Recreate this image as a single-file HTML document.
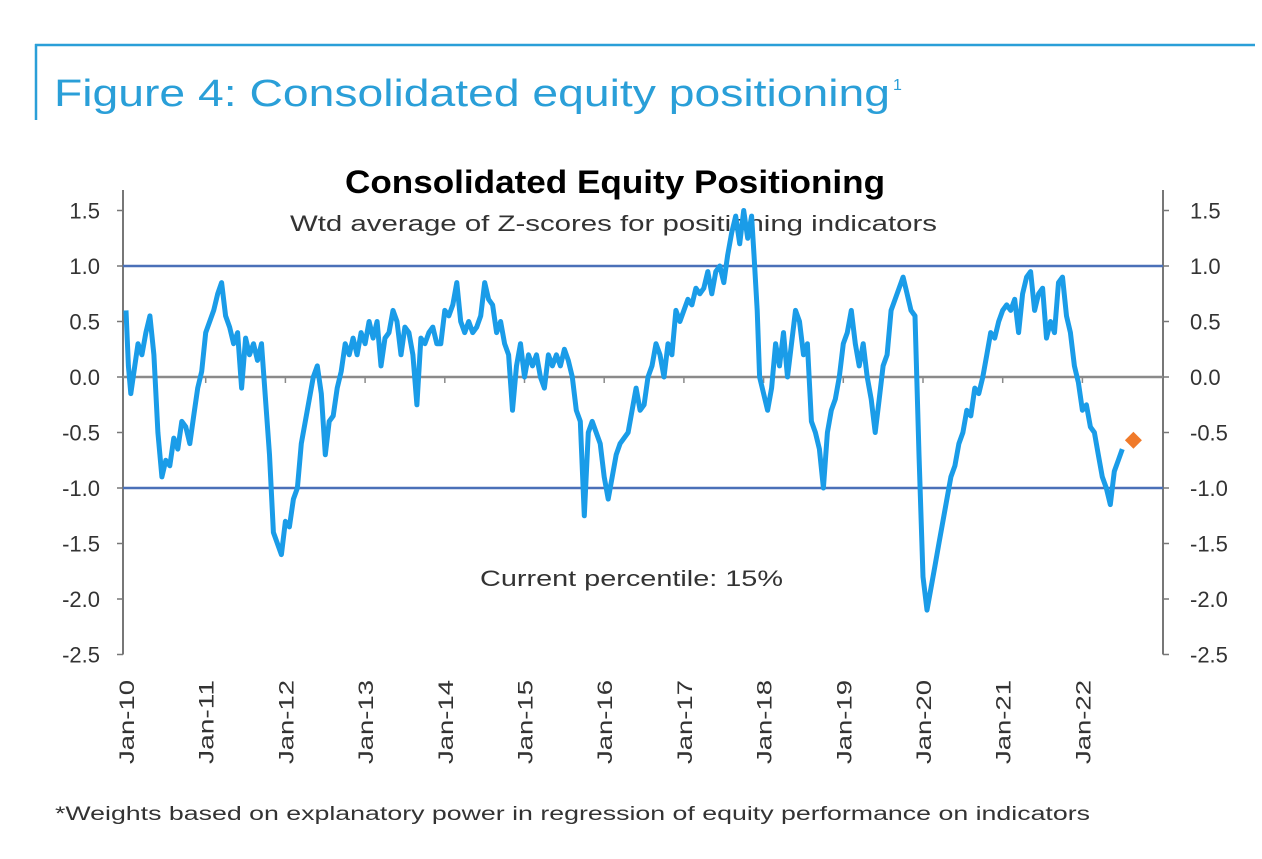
<!DOCTYPE html>
<html><head><meta charset="utf-8"><style>
body{margin:0;background:#fff;width:1262px;height:854px;overflow:hidden;font-family:"Liberation Sans",sans-serif}
</style></head><body>
<svg id="c" width="1262" height="854" xmlns="http://www.w3.org/2000/svg" style="font-family:'Liberation Sans',sans-serif">
<line x1="35" y1="45" x2="1255" y2="45" stroke="#2a9fd8" stroke-width="2.5"/>
<line x1="36" y1="44" x2="36" y2="120" stroke="#2a9fd8" stroke-width="2.5"/>
<text x="54" y="106" font-size="38" fill="#2a9fd8" textLength="836" lengthAdjust="spacingAndGlyphs">Figure 4: Consolidated equity positioning</text>
<text x="893" y="90" font-size="16" fill="#2a9fd8">1</text>
<text x="345" y="193" font-size="32" font-weight="bold" fill="#000" textLength="540" lengthAdjust="spacingAndGlyphs">Consolidated Equity Positioning</text>
<text x="290" y="231" font-size="22" fill="#333" textLength="647" lengthAdjust="spacingAndGlyphs">Wtd average of Z-scores for positioning indicators</text>
<g id="axes"></g>
<g id="plot"></g>
<text x="480" y="586" font-size="22" fill="#333" textLength="303" lengthAdjust="spacingAndGlyphs">Current percentile: 15%</text>
<text x="55" y="820" font-size="19" fill="#333" textLength="1035" lengthAdjust="spacingAndGlyphs">*Weights based on explanatory power in regression of equity performance on indicators</text>
</svg>
<script>
const yTicks=[1.5,1.0,0.5,0.0,-0.5,-1.0,-1.5,-2.0,-2.5];
const yTickLabels=["1.5","1.0","0.5","0.0","-0.5","-1.0","-1.5","-2.0","-2.5"];
const xYears=[2010,2011,2012,2013,2014,2015,2016,2017,2018,2019,2020,2021,2022];
const xTickLabels=["Jan-10","Jan-11","Jan-12","Jan-13","Jan-14","Jan-15","Jan-16","Jan-17","Jan-18","Jan-19","Jan-20","Jan-21","Jan-22"];
const dates=[2010.0,2010.03,2010.06,2010.1,2010.15,2010.2,2010.25,2010.3,2010.35,2010.4,2010.45,2010.5,2010.55,2010.6,2010.65,2010.7,2010.75,2010.8,2010.85,2010.9,2010.95,2011.0,2011.05,2011.1,2011.15,2011.2,2011.25,2011.3,2011.35,2011.4,2011.45,2011.5,2011.55,2011.6,2011.65,2011.7,2011.75,2011.8,2011.85,2011.9,2011.95,2012.0,2012.05,2012.1,2012.15,2012.2,2012.25,2012.3,2012.35,2012.4,2012.45,2012.5,2012.55,2012.6,2012.65,2012.7,2012.75,2012.8,2012.85,2012.9,2012.95,2013.0,2013.05,2013.1,2013.15,2013.2,2013.25,2013.3,2013.35,2013.4,2013.45,2013.5,2013.55,2013.6,2013.65,2013.7,2013.75,2013.8,2013.85,2013.9,2013.95,2014.0,2014.05,2014.1,2014.15,2014.2,2014.25,2014.3,2014.35,2014.4,2014.45,2014.5,2014.55,2014.6,2014.65,2014.7,2014.75,2014.8,2014.85,2014.9,2014.95,2015.0,2015.05,2015.1,2015.15,2015.2,2015.25,2015.3,2015.35,2015.4,2015.45,2015.5,2015.55,2015.6,2015.65,2015.7,2015.75,2015.8,2015.85,2015.9,2015.95,2016.0,2016.05,2016.1,2016.15,2016.2,2016.3,2016.35,2016.4,2016.45,2016.5,2016.55,2016.6,2016.65,2016.7,2016.75,2016.8,2016.85,2016.9,2016.95,2017.0,2017.05,2017.1,2017.15,2017.2,2017.25,2017.3,2017.35,2017.4,2017.45,2017.5,2017.55,2017.6,2017.65,2017.7,2017.75,2017.8,2017.85,2017.88,2017.92,2017.95,2018.0,2018.05,2018.1,2018.15,2018.2,2018.25,2018.3,2018.35,2018.4,2018.45,2018.5,2018.55,2018.6,2018.65,2018.7,2018.75,2018.8,2018.85,2018.9,2018.95,2019.0,2019.05,2019.1,2019.15,2019.2,2019.25,2019.3,2019.35,2019.4,2019.45,2019.5,2019.55,2019.6,2019.65,2019.7,2019.75,2019.8,2019.85,2019.9,2019.95,2020.0,2020.05,2020.1,2020.15,2020.2,2020.25,2020.3,2020.35,2020.4,2020.45,2020.5,2020.55,2020.6,2020.65,2020.7,2020.75,2020.8,2020.85,2020.9,2020.95,2021.0,2021.05,2021.1,2021.15,2021.2,2021.25,2021.3,2021.35,2021.4,2021.45,2021.5,2021.55,2021.6,2021.65,2021.7,2021.75,2021.8,2021.85,2021.9,2021.95,2022.0,2022.05,2022.1,2022.15,2022.2,2022.25,2022.3,2022.35,2022.4,2022.45,2022.5,2022.55,2022.6];
const values=[0.6,0.1,-0.15,0.05,0.3,0.2,0.4,0.55,0.2,-0.5,-0.9,-0.75,-0.8,-0.55,-0.65,-0.4,-0.45,-0.6,-0.35,-0.1,0.05,0.4,0.5,0.6,0.75,0.85,0.55,0.45,0.3,0.4,-0.1,0.35,0.2,0.3,0.15,0.3,-0.2,-0.7,-1.4,-1.5,-1.6,-1.3,-1.35,-1.1,-1.0,-0.6,-0.4,-0.2,0.0,0.1,-0.15,-0.7,-0.4,-0.35,-0.1,0.05,0.3,0.2,0.35,0.2,0.4,0.3,0.5,0.35,0.5,0.1,0.35,0.4,0.6,0.5,0.2,0.45,0.4,0.2,-0.25,0.35,0.3,0.4,0.45,0.3,0.3,0.6,0.55,0.65,0.85,0.5,0.4,0.5,0.4,0.45,0.55,0.85,0.7,0.65,0.4,0.5,0.3,0.2,-0.3,0.1,0.3,0.0,0.2,0.1,0.2,0.0,-0.1,0.2,0.1,0.2,0.1,0.25,0.15,0.0,-0.3,-0.4,-1.25,-0.5,-0.4,-0.5,-0.6,-0.9,-1.1,-0.9,-0.7,-0.6,-0.5,-0.3,-0.1,-0.3,-0.25,0.0,0.1,0.3,0.2,0.0,0.3,0.2,0.6,0.5,0.6,0.7,0.65,0.8,0.75,0.8,0.95,0.75,0.95,1.0,0.85,1.1,1.3,1.45,1.2,1.5,1.25,1.45,1.1,0.6,0.0,-0.15,-0.3,-0.1,0.3,0.1,0.4,0.0,0.3,0.6,0.5,0.2,0.3,-0.4,-0.5,-0.65,-1.0,-0.5,-0.3,-0.2,0.0,0.3,0.4,0.6,0.3,0.1,0.3,0.0,-0.2,-0.5,-0.2,0.1,0.2,0.6,0.7,0.8,0.9,0.75,0.6,0.55,-0.7,-1.8,-2.1,-1.9,-1.7,-1.5,-1.3,-1.1,-0.9,-0.8,-0.6,-0.5,-0.3,-0.35,-0.1,-0.15,0.0,0.2,0.4,0.35,0.5,0.6,0.65,0.6,0.7,0.4,0.75,0.9,0.95,0.6,0.75,0.8,0.35,0.5,0.4,0.85,0.9,0.55,0.4,0.1,-0.05,-0.3,-0.25,-0.45,-0.5,-0.7,-0.9,-1.0,-1.15,-0.85,-0.75,-0.65];
const lastDate=2022.64, lastValue=-0.57;

const X0=126, PX_YEAR=79.7, Y0=377, PX_UNIT=111;
const xs=t=>X0+(t-2010)*PX_YEAR;
const ys=v=>Y0-v*PX_UNIT;
const NS="http://www.w3.org/2000/svg";
const axes=document.getElementById('axes'), plot=document.getElementById('plot');
function mk(tag,attrs,parent){const e=document.createElementNS(NS,tag);for(const k in attrs)e.setAttribute(k,attrs[k]);parent.appendChild(e);return e;}

let la=mk('line',{x1:123,y1:190,x2:123,y2:ys(-2.5),stroke:'#777','stroke-width':2},axes);


let ra=mk('line',{x1:1163,y1:190,x2:1163,y2:ys(-2.5),stroke:'#777','stroke-width':2},axes);


yTicks.forEach((v,i)=>{
  const y=ys(v);
  mk('line',{x1:117,y1:y,x2:123,y2:y,stroke:'#777','stroke-width':1.5},axes);
  mk('line',{x1:1163,y1:y,x2:1169,y2:y,stroke:'#777','stroke-width':1.5},axes);
  const l=mk('text',{x:100,y:y+8,'font-size':22,'text-anchor':'end',fill:'#333'},axes);l.textContent=yTickLabels[i];
  
  
  const r=mk('text',{x:1190,y:y+8,'font-size':22,fill:'#333'},axes);r.textContent=yTickLabels[i];
  
  
});
[1,-1].forEach(v=>{
  const h=mk('line',{x1:123,y1:ys(v),x2:1163,y2:ys(v),stroke:'#4a70b8','stroke-width':2.5},axes);
  
  
});
const z=mk('line',{x1:123,y1:ys(0),x2:1163,y2:ys(0),stroke:'#8a8a8a','stroke-width':2.5},axes);


xYears.forEach((t,i)=>{
  const x=xs(t);
  if(i>0)mk('line',{x1:x,y1:ys(0),x2:x,y2:ys(0)+6,stroke:'#8a8a8a','stroke-width':1.5},axes);
  const l=mk('text',{x:0,y:0,'font-size':21,'text-anchor':'end',fill:'#333',textLength:84,lengthAdjust:'spacingAndGlyphs',transform:`translate(${x+8},680) rotate(-90)`},axes);
  l.textContent=xTickLabels[i];
  
  
});
const d=dates.map((t,i)=>(i?'L':'M')+xs(t).toFixed(1)+' '+ys(values[i]).toFixed(1)).join(' ');
const p=mk('path',{d:d,fill:'none',stroke:'#1a9ce8','stroke-width':5,'stroke-linejoin':'round'},plot);


const dot=mk('rect',{x:xs(lastDate)-6,y:ys(lastValue)-6,width:12,height:12,fill:'#f07a2a',transform:`rotate(45 ${xs(lastDate)} ${ys(lastValue)})`},plot);


</script>
</body></html>
